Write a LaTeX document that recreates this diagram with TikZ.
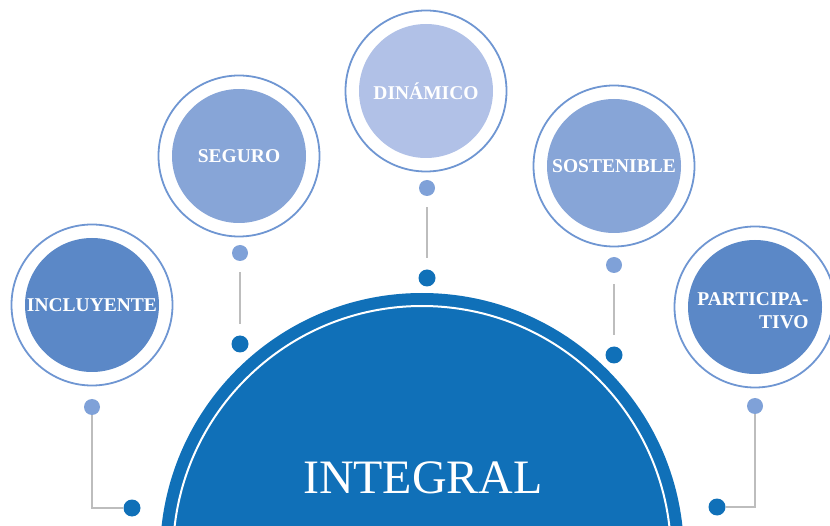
\documentclass[tikz,border=0pt]{standalone}
\usepackage{fontspec}
\setmainfont{Liberation Serif}
\definecolor{coreblue}{HTML}{1070B8}
\definecolor{midblue}{HTML}{5B88C7}
\definecolor{paleblue}{HTML}{87A5D7}
\definecolor{lightblue}{HTML}{B1C1E7}
\definecolor{ringblue}{HTML}{6F96D2}
\definecolor{dotblue}{HTML}{7FA1D8}
\definecolor{linegrey}{HTML}{BDBDBD}
\begin{document}
\begin{tikzpicture}[
    x=1pt, y=-1pt,
    ring/.style={circle, draw=ringblue, line width=1.8pt, minimum size=161pt, inner sep=0pt},
    disc/.style={circle, minimum size=134pt, inner sep=0pt, text=white, align=center,
        font=\fontsize{19.5}{23}\selectfont\bfseries},
    lightdot/.style={circle, fill=dotblue, minimum size=16pt, inner sep=0pt},
    darkdot/.style={circle, fill=coreblue, minimum size=17pt, inner sep=0pt},
    connector/.style={draw=linegrey, line width=2pt},
    gapped/.style={connector, shorten <=11pt, shorten >=11pt}
]
  \useasboundingbox (0,0) rectangle (830,526);
  \clip (0,0) rectangle (830,526);

  % central half disc
  \node[circle, fill=coreblue, minimum size=524pt, inner sep=0pt] (core) at (422,555) {};
  \node[circle, draw=white, line width=2pt, minimum size=498pt, inner sep=0pt] (corering) at (422,555) {};
  \node[text=white, font=\fontsize{48}{56}\selectfont] (integral) at (423,478) {INTEGRAL};

  % outer bubbles
  \node[ring] (incluyenteR) at (92,305) {};
  \node[disc, fill=midblue] (incluyente) at (92,305) {INCLUYENTE};
  \node[ring] (seguroR) at (239,156) {};
  \node[disc, fill=paleblue] (seguro) at (239,156) {SEGURO};
  \node[ring] (dinamicoR) at (426,91) {};
  \node[disc, fill=lightblue] (dinamico) at (426,91) {DINÁMICO};
  \node[ring] (sostenibleR) at (614,166) {};
  \node[disc, fill=paleblue] (sostenible) at (614,166) {SOSTENIBLE};
  \node[ring] (participativoR) at (755,307) {};
  \node[disc, fill=midblue] (participativo) at (755,307) {};
  \node[disc, minimum size=0pt, align=right] (participativoT) at (753,311) {PARTICIPA-\\TIVO};

  % dots
  \node[lightdot] (incluyenteA) at (92,407) {};
  \node[darkdot] (incluyenteB) at (132,508) {};
  \node[lightdot] (seguroA) at (240,253) {};
  \node[darkdot] (seguroB) at (240,344) {};
  \node[lightdot] (dinamicoA) at (427,188) {};
  \node[darkdot] (dinamicoB) at (427,278) {};
  \node[lightdot] (sostenibleA) at (614,265) {};
  \node[darkdot] (sostenibleB) at (614,355) {};
  \node[lightdot] (participativoA) at (755,406) {};
  \node[darkdot] (participativoB) at (717,507) {};

  % connectors
  \draw[connector] (incluyenteA) |- (incluyenteB);
  \draw[connector] (participativoA) |- (participativoB);
  \draw[gapped] (seguroA) -- (seguroB);
  \draw[gapped] (dinamicoA) -- (dinamicoB);
  \draw[gapped] (sostenibleA) -- (sostenibleB);
\end{tikzpicture}
\end{document}
